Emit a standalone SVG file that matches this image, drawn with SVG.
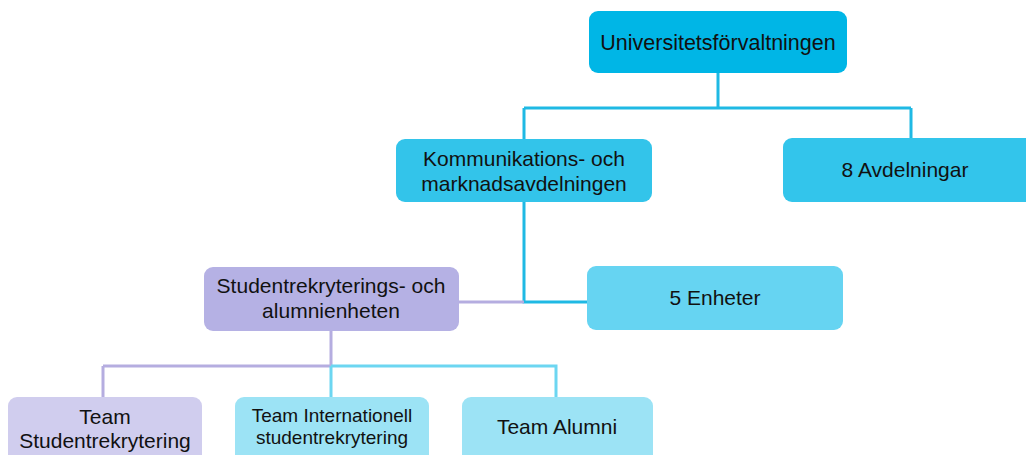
<svg xmlns="http://www.w3.org/2000/svg" width="1026" height="455" viewBox="0 0 1026 455">
  <style>
    .lbl { font-family: "Liberation Sans", Arial, sans-serif; fill: #111111; text-anchor: middle; }
    .big { font-size: 21.5px; }
    .mid { font-size: 21px; }
    .sm { font-size: 19px; }
    .wire { fill: none; stroke-width: 3; }
    .blue { stroke: #1FB9E4; }
    .light { stroke: #6CD6F1; }
    .lav { stroke: #B5ADE0; }
  </style>

  <g id="connectors">
    <path class="wire blue" d="M718 73 V108 M524 108 H911 M524 108 V139 M911 108 V138"/>
    <path class="wire blue" d="M524 202 V302 H588"/>
    <path class="wire lav" d="M459 302 H524"/>
    <path class="wire lav" d="M331 331 V366 M103 366 H331 M103 366 V397"/>
    <path class="wire light" d="M331 366 H556 V397 M331 366 V397"/>
  </g>

  <g id="universitetsforvaltningen">
    <rect x="589" y="11" width="258" height="62" rx="9" fill="#00B6E6"/>
    <text class="lbl big" x="718" y="50">Universitetsförvaltningen</text>
  </g>

  <g id="kommunikation">
    <rect x="396" y="139" width="256" height="63" rx="9" fill="#33C4EA"/>
    <text class="lbl mid" x="524" y="166">Kommunikations- och</text>
    <text class="lbl mid" x="524" y="191">marknadsavdelningen</text>
  </g>

  <g id="avdelningar">
    <rect x="783" y="138" width="256" height="64" rx="9" fill="#33C5EB"/>
    <text class="lbl mid" x="905" y="177">8 Avdelningar</text>
  </g>

  <g id="enheter">
    <rect x="587" y="266" width="256" height="64" rx="9" fill="#66D4F2"/>
    <text class="lbl mid" x="715" y="305">5 Enheter</text>
  </g>

  <g id="studentrekryteringsenheten">
    <rect x="204" y="267" width="255" height="64" rx="9" fill="#B5B1E4"/>
    <text class="lbl mid" x="331" y="293">Studentrekryterings- och</text>
    <text class="lbl mid" x="331" y="318">alumnienheten</text>
  </g>

  <g id="team-studentrekrytering">
    <rect x="8" y="397" width="194" height="70" rx="9" fill="#D0CDEE"/>
    <text class="lbl mid" x="105" y="424">Team</text>
    <text class="lbl mid" x="105" y="448">Studentrekrytering</text>
  </g>

  <g id="team-internationell">
    <rect x="235" y="397" width="194" height="70" rx="9" fill="#9CE3F5"/>
    <text class="lbl sm" x="332" y="422">Team Internationell</text>
    <text class="lbl sm" x="332" y="444">studentrekrytering</text>
  </g>

  <g id="team-alumni">
    <rect x="462" y="397" width="191" height="70" rx="9" fill="#9CE3F5"/>
    <text class="lbl mid" x="557" y="434">Team Alumni</text>
  </g>
</svg>
